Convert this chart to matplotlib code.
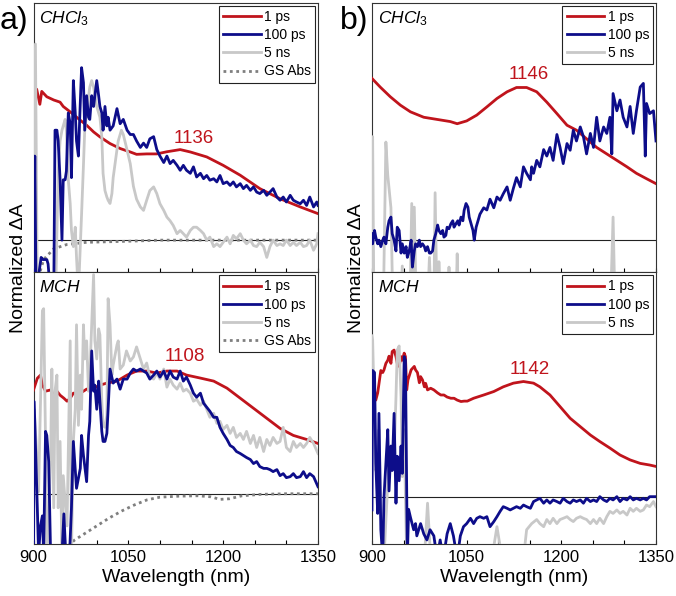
import matplotlib
matplotlib.use('Agg')
import matplotlib.pyplot as plt
from matplotlib.lines import Line2D

plt.rcParams['font.family'] = ['Liberation Sans', 'DejaVu Sans']
plt.rcParams['mathtext.fontset'] = 'custom'
plt.rcParams['mathtext.rm'] = 'Liberation Sans'
plt.rcParams['mathtext.it'] = 'Liberation Sans:italic'

RED = '#C0141C'
BLUE = '#0D0D8A'
GREY = '#C8C8C8'
GS = '#7F7F7F'
LW = 2.0

# ---- a) CHCl3 ----
a_top_red_nm = [900, 905, 910, 913, 921, 932, 942, 947, 958, 974, 984, 995, 1005, 1021, 1037, 1053, 1063,
                1079, 1095, 1111, 1132, 1148, 1174, 1200, 1227, 1258, 1290, 1322, 1350]
a_top_red = [0.70, 0.70, 0.63, 0.69, 0.665, 0.65, 0.64, 0.62, 0.595, 0.556, 0.533, 0.502, 0.479, 0.448, 0.425,
             0.409, 0.398, 0.40, 0.40, 0.41, 0.42, 0.409, 0.386, 0.347, 0.301, 0.239, 0.192, 0.154, 0.123]

a_top_blue_nm = [900, 902, 904, 912, 915, 921, 923, 927, 932, 934, 937, 939, 942, 945, 947, 950, 952, 955, 958,
                 960, 963, 966, 968, 971, 973, 976, 979, 981, 984, 987, 989, 992, 995, 1000, 1003, 1005, 1008,
                 1010, 1013, 1016, 1018, 1021, 1026, 1032, 1037, 1042, 1048, 1053, 1058, 1063, 1069, 1074, 1079,
                 1084, 1090, 1095, 1100, 1106, 1111, 1116, 1121, 1127, 1132, 1137, 1142, 1148, 1153, 1158, 1164,
                 1169, 1174, 1179, 1185, 1190, 1195, 1200, 1206, 1211, 1216, 1221, 1227, 1232, 1237, 1243, 1248,
                 1253, 1258, 1264, 1269, 1274, 1279, 1285, 1290, 1295, 1300, 1306, 1311, 1316, 1322, 1327, 1332,
                 1337, 1343, 1348, 1350]
a_top_blue = [-0.25, 0.39, -0.25, -0.08, -0.09, -0.09, -0.11, -0.25, -0.25, 0.51, 0.51, 0.46, 0.28, 0.0, 0.28,
              0.28, 0.32, 0.59, 0.54, 0.29, 0.74, 0.59, 0.46, 0.39, 0.56, 0.80, 0.73, 0.51, 0.67, 0.57, 0.56,
              0.67, 0.62, 0.74, 0.67, 0.62, 0.59, 0.51, 0.62, 0.53, 0.57, 0.51, 0.53, 0.61, 0.54, 0.56, 0.51,
              0.49, 0.49, 0.46, 0.43, 0.45, 0.43, 0.47, 0.48, 0.42, 0.39, 0.36, 0.39, 0.355, 0.37, 0.347, 0.324,
              0.347, 0.324, 0.31, 0.34, 0.293, 0.31, 0.285, 0.30, 0.278, 0.285, 0.27, 0.30, 0.262, 0.27, 0.254,
              0.27, 0.247, 0.262, 0.239, 0.254, 0.231, 0.247, 0.223, 0.216, 0.231, 0.208, 0.223, 0.239, 0.20,
              0.185, 0.20, 0.177, 0.208, 0.185, 0.177, 0.169, 0.185, 0.161, 0.20, 0.154, 0.177, 0.161]

a_top_grey_nm = [900, 903, 906, 935, 939, 942, 945, 947, 950, 952, 955, 958, 960, 963, 966, 968, 971, 973, 976,
                 979, 981, 984, 987, 989, 992, 995, 1000, 1005, 1008, 1010, 1013, 1016, 1018, 1021, 1024, 1026,
                 1029, 1032, 1034, 1037, 1039, 1042, 1047, 1053, 1058, 1063, 1069, 1074, 1079, 1084, 1090, 1095,
                 1100, 1106, 1111, 1116, 1121, 1127, 1132, 1137, 1142, 1148, 1153, 1158, 1164, 1169, 1174, 1179,
                 1185, 1190, 1195, 1200, 1206, 1211, 1216, 1221, 1227, 1232, 1237, 1243, 1248, 1253, 1258, 1264,
                 1269, 1274, 1279, 1285, 1290, 1295, 1300, 1306, 1311, 1316, 1322, 1327, 1332, 1337, 1343, 1348,
                 1350]
a_top_grey = [-0.25, 0.91, -0.25, -0.25, 0.32, 0.46, 0.51, 0.53, 0.56, 0.51, 0.28, 0.17, 0.045, -0.03, 0.06,
              -0.08, -0.25, -0.1, 0.12, 0.35, 0.51, 0.59, 0.665, 0.71, 0.74, 0.71, 0.62, 0.57, 0.48, 0.31, 0.23,
              0.20, 0.185, 0.17, 0.216, 0.29, 0.355, 0.42, 0.46, 0.49, 0.51, 0.49, 0.43, 0.355, 0.25, 0.19,
              0.154, 0.138, 0.185, 0.23, 0.247, 0.216, 0.169, 0.138, 0.107, 0.09, 0.068, 0.03, 0.045, 0.03,
              0.014, 0.045, 0.06, 0.06, 0.045, 0.03, 0.0, 0.014, -0.03, -0.017, -0.03, -0.01, 0.014, -0.017,
              0.022, 0.006, 0.03, 0.0, -0.017, 0.0, -0.025, -0.03, -0.01, -0.03, -0.08, -0.03, 0.0, -0.025,
              -0.017, -0.025, 0.0, -0.025, -0.01, -0.025, -0.01, -0.03, -0.025, 0.0, -0.047, -0.017, 0.03]

a_top_gs_nm = [905, 916, 932, 953, 984, 1050, 1100, 1200, 1350]
a_top_gs = [-0.2, -0.09, -0.04, -0.02, -0.01, -0.005, 0.0, 0.0, 0.0]

# ---- a) MCH ----
a_bot_red_nm = [900, 906, 911, 914, 919, 927, 932, 937, 942, 948, 953, 958, 963, 974, 984, 995, 1005, 1016,
                1032, 1048, 1063, 1079, 1095, 1111, 1127, 1142, 1164, 1185, 1206, 1227, 1248, 1269, 1290, 1311,
                1332, 1350]
a_bot_red = [0.516, 0.574, 0.59, 0.54, 0.51, 0.516, 0.49, 0.51, 0.49, 0.475, 0.46, 0.475, 0.50, 0.50, 0.52,
             0.525, 0.54, 0.55, 0.56, 0.59, 0.61, 0.61, 0.60, 0.61, 0.61, 0.59, 0.575, 0.56, 0.525, 0.475,
             0.425, 0.375, 0.325, 0.29, 0.27, 0.25]

a_bot_blue_nm = [900, 901, 906, 908, 911, 914, 916, 919, 921, 924, 927, 945, 948, 951, 957, 960, 963, 968, 974,
                 976, 979, 984, 987, 989, 992, 995, 997, 1000, 1003, 1005, 1008, 1010, 1013, 1016, 1018, 1021,
                 1026, 1032, 1037, 1042, 1048, 1053, 1058, 1063, 1069, 1079, 1084, 1090, 1095, 1100, 1106, 1111,
                 1116, 1121, 1127, 1132, 1137, 1142, 1148, 1153, 1158, 1164, 1169, 1174, 1179, 1185, 1190, 1195,
                 1200, 1206, 1211, 1216, 1221, 1227, 1232, 1237, 1243, 1248, 1253, 1258, 1264, 1269, 1274, 1279,
                 1285, 1290, 1295, 1300, 1306, 1311, 1316, 1322, 1327, 1332, 1337, 1343, 1350]
a_bot_blue = [-0.3, 0.458, -0.07, -0.3, -0.16, -0.11, -0.3, 0.31, 0.29, 0.16, -0.3, -0.3, -0.1, -0.3, -0.3,
              -0.07, 0.26, 0.027, 0.126, 0.29, 0.19, 0.06, 0.29, 0.36, 0.71, 0.51, 0.54, 0.42, 0.56, 0.46, 0.31,
              0.26, 0.26, 0.30, 0.42, 0.62, 0.55, 0.57, 0.52, 0.57, 0.57, 0.60, 0.62, 0.61, 0.62, 0.60, 0.57,
              0.59, 0.61, 0.58, 0.61, 0.57, 0.61, 0.58, 0.57, 0.61, 0.56, 0.58, 0.54, 0.50, 0.48, 0.50, 0.45,
              0.43, 0.41, 0.38, 0.38, 0.33, 0.30, 0.27, 0.24, 0.23, 0.21, 0.20, 0.19, 0.18, 0.17, 0.15, 0.16,
              0.135, 0.126, 0.126, 0.12, 0.11, 0.12, 0.09, 0.10, 0.08, 0.085, 0.10, 0.08, 0.085, 0.11, 0.08,
              0.10, 0.085, 0.035]

a_bot_grey_nm = [900, 901, 905, 908, 912, 914, 916, 919, 921, 924, 927, 929, 932, 934, 937, 939, 942, 945, 947,
                 953, 958, 960, 963, 966, 968, 971, 974, 976, 979, 981, 984, 987, 989, 992, 995, 997, 1000, 1003,
                 1005, 1008, 1010, 1013, 1016, 1018, 1021, 1024, 1026, 1029, 1032, 1034, 1037, 1042, 1047, 1053,
                 1058, 1063, 1069, 1074, 1079, 1084, 1090, 1095, 1100, 1106, 1111, 1116, 1121, 1127, 1132, 1137,
                 1142, 1148, 1153, 1158, 1164, 1169, 1174, 1179, 1185, 1190, 1195, 1200, 1206, 1211, 1216, 1221,
                 1227, 1232, 1237, 1243, 1248, 1253, 1258, 1264, 1269, 1274, 1279, 1285, 1290, 1295, 1300, 1306,
                 1311, 1316, 1322, 1327, 1332, 1337, 1343, 1350]
a_bot_grey = [-0.3, 0.42, 0.2, 0.01, 0.6, 0.91, 0.92, 0.26, -0.3, -0.15, 0.18, 0.62, -0.07, 0.51, 0.59, -0.07,
              0.26, -0.3, 0.09, -0.16, 0.76, -0.3, 0.26, 0.42, 0.84, 0.34, 0.59, 0.42, 0.84, 0.67, 0.76, 0.51,
              0.59, 0.84, 1.09, 0.76, 0.67, 0.82, 0.79, 0.46, 0.34, 0.33, 0.39, 0.97, 0.84, 0.59, 0.64, 0.69,
              0.74, 0.76, 0.62, 0.64, 0.71, 0.66, 0.68, 0.73, 0.67, 0.62, 0.65, 0.58, 0.57, 0.60, 0.57, 0.62,
              0.53, 0.57, 0.54, 0.52, 0.55, 0.51, 0.52, 0.50, 0.46, 0.47, 0.44, 0.46, 0.42, 0.38, 0.40, 0.35,
              0.36, 0.32, 0.34, 0.30, 0.33, 0.28, 0.30, 0.27, 0.31, 0.25, 0.29, 0.23, 0.28, 0.21, 0.27, 0.24,
              0.28, 0.25, 0.26, 0.33, 0.23, 0.21, 0.26, 0.23, 0.25, 0.23, 0.25, 0.28, 0.25, 0.20]

a_bot_gs_nm = [955, 965, 980, 1000, 1020, 1040, 1060, 1080, 1100, 1130, 1160, 1180, 1195, 1210, 1230, 1260,
               1300, 1350]
a_bot_gs = [-0.26, -0.23, -0.20, -0.16, -0.12, -0.085, -0.055, -0.03, -0.017, -0.012, -0.01, -0.015, -0.028,
            -0.025, -0.01, -0.003, 0.0, 0.0]

# ---- b) CHCl3 ----
b_top_red_nm = [900, 913, 929, 945, 961, 982, 1003, 1024, 1035, 1050, 1066, 1082, 1098, 1114, 1129, 1145, 1161,
                1177, 1193, 1209, 1224, 1240, 1256, 1272, 1288, 1304, 1319, 1335, 1350]
b_top_red = [0.75, 0.71, 0.665, 0.626, 0.595, 0.57, 0.56, 0.55, 0.54, 0.553, 0.58, 0.618, 0.657, 0.688, 0.708,
             0.708, 0.688, 0.64, 0.587, 0.533, 0.51, 0.47, 0.43, 0.40, 0.37, 0.34, 0.31, 0.285, 0.262]

b_top_blue_nm = [900, 901, 904, 906, 909, 911, 914, 917, 919, 922, 925, 927, 930, 932, 935, 938, 940, 943, 946,
                 948, 951, 954, 956, 959, 962, 964, 967, 969, 972, 975, 977, 980, 983, 985, 988, 991, 993, 996,
                 998, 1001, 1004, 1006, 1009, 1012, 1014, 1017, 1019, 1022, 1025, 1028, 1030, 1033, 1036, 1038,
                 1041, 1044, 1046, 1049, 1052, 1054, 1057, 1060, 1062, 1065, 1068, 1071, 1077, 1082, 1087, 1093,
                 1098, 1103, 1108, 1114, 1119, 1124, 1129, 1135, 1140, 1145, 1151, 1153, 1156, 1161, 1166, 1172,
                 1177, 1182, 1187, 1193, 1198, 1203, 1209, 1214, 1219, 1224, 1230, 1235, 1240, 1246, 1251, 1256,
                 1261, 1267, 1272, 1277, 1280, 1282, 1288, 1293, 1298, 1304, 1309, 1314, 1319, 1325, 1330, 1333,
                 1335, 1340, 1346, 1350]
b_top_blue = [0.03, -0.017, 0.045, 0.014, -0.017, 0.0, -0.03, 0.0, 0.014, -0.017, 0.06, 0.09, 0.107, 0.03, 0.0,
              -0.05, 0.06, 0.045, -0.06, -0.017, -0.06, -0.03, -0.08, -0.05, 0.0, -0.125, -0.05, -0.017, -0.03,
              0.0, -0.03, -0.017, -0.03, -0.05, -0.03, -0.06, -0.06, -0.05, 0.0, 0.03, 0.07, 0.045, 0.03, 0.045,
              0.014, 0.022, 0.06, 0.053, 0.076, 0.09, 0.06, 0.076, 0.09, 0.07, 0.107, 0.09, 0.138, 0.17, 0.153,
              0.107, 0.076, 0.045, 0.0, 0.06, 0.09, 0.12, 0.15, 0.14, 0.19, 0.15, 0.20, 0.185, 0.215, 0.247,
              0.185, 0.24, 0.29, 0.247, 0.34, 0.31, 0.28, 0.34, 0.31, 0.37, 0.34, 0.42, 0.39, 0.43, 0.37, 0.49,
              0.43, 0.355, 0.448, 0.417, 0.51, 0.46, 0.525, 0.48, 0.40, 0.495, 0.43, 0.57, 0.46, 0.525, 0.495,
              0.57, 0.40, 0.68, 0.60, 0.65, 0.57, 0.525, 0.62, 0.495, 0.60, 0.71, 0.727, 0.39, 0.634, 0.587,
              0.60, 0.46]

b_top_grey_nm = [900, 901, 903, 918, 922, 925, 927, 930, 933, 945, 948, 951, 960, 963, 965, 967, 970, 988, 991,
                 994, 998, 1000, 1003, 1005, 1006, 1008, 1020, 1022, 1024, 1033, 1035, 1037, 1278, 1282, 1285,
                 1350]
b_top_grey = [-0.3, 0.48, -0.3, -0.3, 0.455, 0.3, 0.24, 0.15, -0.3, -0.3, -0.12, -0.3, -0.3, 0.17, -0.3, 0.153,
              -0.3, -0.3, -0.08, -0.3, -0.3, 0.22, -0.3, -0.3, -0.1, -0.3, -0.3, -0.125, -0.3, -0.3, -0.063,
              -0.3, -0.3, 0.107, -0.3, -0.3]

# ---- b) MCH ----
b_bot_red_nm = [900, 901, 904, 906, 909, 914, 917, 919, 922, 925, 927, 930, 932, 935, 938, 940, 943, 946, 948,
                951, 953, 955, 957, 962, 967, 969, 972, 975, 977, 980, 983, 985, 988, 993, 998, 1004, 1009,
                1014, 1019, 1025, 1030, 1035, 1041, 1046, 1051, 1061, 1077, 1093, 1108, 1124, 1140, 1156, 1166,
                1182, 1198, 1214, 1230, 1246, 1261, 1277, 1293, 1309, 1325, 1340, 1350]
b_bot_red = [0.443, 0.49, 0.525, 0.475, 0.51, 0.62, 0.61, 0.623, 0.655, 0.67, 0.69, 0.655, 0.713, 0.72, 0.688,
             0.655, 0.64, 0.688, 0.67, 0.705, 0.688, 0.525, 0.574, 0.623, 0.64, 0.623, 0.61, 0.56, 0.59, 0.574,
             0.54, 0.557, 0.525, 0.533, 0.525, 0.51, 0.50, 0.50, 0.49, 0.484, 0.484, 0.475, 0.468, 0.47, 0.47,
             0.484, 0.50, 0.517, 0.54, 0.558, 0.566, 0.558, 0.54, 0.50, 0.443, 0.386, 0.345, 0.304, 0.272,
             0.24, 0.206, 0.182, 0.165, 0.157, 0.15]

b_bot_blue_nm = [900, 901, 904, 906, 909, 911, 914, 917, 919, 922, 925, 927, 930, 932, 935, 938, 940, 943, 946,
                 948, 951, 953, 956, 958, 961, 966, 969, 971, 977, 982, 987, 992, 998, 1003, 1008, 1013, 1019,
                 1024, 1029, 1035, 1040, 1045, 1050, 1056, 1061, 1066, 1071, 1077, 1082, 1087, 1093, 1098, 1103,
                 1108, 1114, 1119, 1124, 1129, 1135, 1140, 1145, 1151, 1156, 1161, 1166, 1172, 1177, 1182, 1187,
                 1193, 1198, 1203, 1209, 1214, 1219, 1224, 1230, 1235, 1240, 1246, 1251, 1256, 1261, 1267, 1272,
                 1277, 1282, 1288, 1293, 1298, 1304, 1309, 1314, 1319, 1325, 1330, 1335, 1340, 1350]
b_bot_blue = [-0.063, 0.62, 0.61, 0.165, -0.08, 0.41, -0.16, -0.3, 0.0, 0.165, 0.33, 0.03, 0.25, 0.13, 0.41,
              -0.03, 0.2, 0.08, 0.25, 0.116, 0.688, 0.67, -0.3, -0.06, -0.1, -0.16, -0.13, -0.19, -0.13, -0.18,
              -0.21, -0.16, -0.19, -0.3, -0.21, -0.3, -0.18, -0.13, -0.19, -0.3, -0.19, -0.145, -0.13, -0.104,
              -0.13, -0.104, -0.096, -0.104, -0.096, -0.145, -0.12, -0.096, -0.07, -0.047, -0.055, -0.063,
              -0.055, -0.047, -0.055, -0.039, -0.047, -0.055, -0.022, -0.014, -0.006, -0.03, -0.014, -0.03,
              -0.014, -0.022, -0.03, -0.006, -0.022, -0.03, -0.014, -0.022, -0.014, -0.03, -0.006, -0.022,
              -0.014, -0.022, 0.002, -0.014, -0.022, -0.006, -0.014, 0.002, -0.022, -0.006, -0.014, 0.002,
              -0.014, -0.006, -0.014, -0.006, -0.014, 0.002, 0.002]

b_bot_grey_nm = [900, 901, 906, 909, 911, 914, 919, 925, 927, 932, 935, 938, 940, 943, 946, 948, 951, 953, 955,
                 983, 988, 993, 1090, 1098, 1106, 1140, 1145, 1153, 1161, 1166, 1172, 1177, 1182, 1187, 1193,
                 1198, 1203, 1209, 1214, 1219, 1224, 1230, 1235, 1240, 1246, 1251, 1256, 1261, 1267, 1272, 1277,
                 1282, 1288, 1293, 1298, 1304, 1309, 1314, 1319, 1325, 1330, 1335, 1340, 1346, 1350]
b_bot_grey = [0.79, 0.77, 0.13, 0.165, 0.33, -0.08, -0.3, 0.07, 0.165, 0.2, 0.2, 0.49, 0.72, 0.74, 0.49, 0.10,
              0.33, 0.0, -0.3, -0.3, -0.03, -0.3, -0.3, -0.145, -0.3, -0.3, -0.16, -0.13, -0.11, -0.13, -0.145,
              -0.11, -0.13, -0.104, -0.13, -0.11, -0.104, -0.096, -0.11, -0.12, -0.104, -0.096, -0.104, -0.11,
              -0.13, -0.11, -0.13, -0.104, -0.13, -0.096, -0.07, -0.08, -0.063, -0.08, -0.07, -0.088, -0.055,
              -0.07, -0.055, -0.07, -0.063, -0.039, -0.047, -0.022, -0.047]

panels = [
    dict(pos=[0.0496, 0.5428, 0.4208, 0.4522], ylim=(-0.15, 1.1), solvent=r'$\mathit{CHCl}_{\mathit{3}}$',
         red=(a_top_red_nm, a_top_red), blue=(a_top_blue_nm, a_top_blue), grey=(a_top_grey_nm, a_top_grey),
         gs=(a_top_gs_nm, a_top_gs), peak=('1136', 1153, 0.47), bottom=False),
    dict(pos=[0.0496, 0.0872, 0.4208, 0.4556], ylim=(-0.25, 1.1), solvent=r'$\mathit{MCH}$',
         red=(a_bot_red_nm, a_bot_red), blue=(a_bot_blue_nm, a_bot_blue), grey=(a_bot_grey_nm, a_bot_grey),
         gs=(a_bot_gs_nm, a_bot_gs), peak=('1108', 1140, 0.68), bottom=True),
    dict(pos=[0.5503, 0.5428, 0.4201, 0.4522], ylim=(-0.15, 1.1), solvent=r'$\mathit{CHCl}_{\mathit{3}}$',
         red=(b_top_red_nm, b_top_red), blue=(b_top_blue_nm, b_top_blue), grey=(b_top_grey_nm, b_top_grey),
         gs=None, peak=('1146', 1149, 0.77), bottom=False),
    dict(pos=[0.5503, 0.0872, 0.4201, 0.4556], ylim=(-0.23, 1.1), solvent=r'$\mathit{MCH}$',
         red=(b_bot_red_nm, b_bot_red), blue=(b_bot_blue_nm, b_bot_blue), grey=(b_bot_grey_nm, b_bot_grey),
         gs=None, peak=('1142', 1150, 0.625), bottom=True),
]

fig = plt.figure(figsize=(6.76, 5.96), dpi=100)

for p in panels:
    ax = fig.add_axes(p['pos'])
    ax.axhline(0, color='#222222', lw=0.8, zorder=1)
    if p['gs'] is not None:
        ax.plot(*p['gs'], color=GS, lw=LW, ls=(0, (1, 1.3)), zorder=2)
    ax.plot(*p['red'], color=RED, lw=LW, zorder=3)
    ax.plot(*p['grey'], color=GREY, lw=LW, zorder=4)
    ax.plot(*p['blue'], color=BLUE, lw=LW, zorder=5)
    ax.set_xlim(900, 1350)
    ax.set_ylim(*p['ylim'])
    ax.set_yticks([])
    ax.set_xticks([900, 1050, 1200, 1350])
    ax.set_xticks(range(950, 1350, 50), minor=True)
    ax.tick_params(axis='x', which='both', direction='in', length=3, width=0.8, labelsize=12, pad=4)
    if not p['bottom']:
        ax.tick_params(axis='x', labelbottom=False)
    else:
        ax.set_xlabel('Wavelength (nm)', fontsize=14, labelpad=3)
    for s in ax.spines.values():
        s.set_linewidth(0.8)
        s.set_color('#333333')
    ax.text(0.02, 0.975, p['solvent'], transform=ax.transAxes, ha='left', va='top', fontsize=12.5)
    label, px, py = p['peak']
    ax.text(px, py, label, color=RED, fontsize=13.5, ha='center', va='center')

    handles = [Line2D([], [], color=RED, lw=LW, label='1 ps'),
               Line2D([], [], color=BLUE, lw=LW, label='100 ps'),
               Line2D([], [], color=GREY, lw=LW, label='5 ns')]
    if p['gs'] is not None:
        handles.append(Line2D([], [], color=GS, lw=LW, ls=(0, (1, 1.3)), label='GS Abs'))
    leg = ax.legend(handles=handles, loc='upper right', fontsize=10, frameon=True, fancybox=False,
                    edgecolor='#222222', framealpha=1, borderpad=0.3, borderaxespad=0.2,
                    labelspacing=0.3, handlelength=2.7, handletextpad=0.25)
    leg.get_frame().set_linewidth(0.8)

fig.text(0.0, 0.99, 'a)', fontsize=23, ha='left', va='top')
fig.text(0.503, 0.99, 'b)', fontsize=23, ha='left', va='top')
fig.text(0.027, 0.55, 'Normalized ΔA', rotation=90, ha='center', va='center', fontsize=14)
fig.text(0.527, 0.55, 'Normalized ΔA', rotation=90, ha='center', va='center', fontsize=14)

fig.savefig('out.png', dpi=100)
